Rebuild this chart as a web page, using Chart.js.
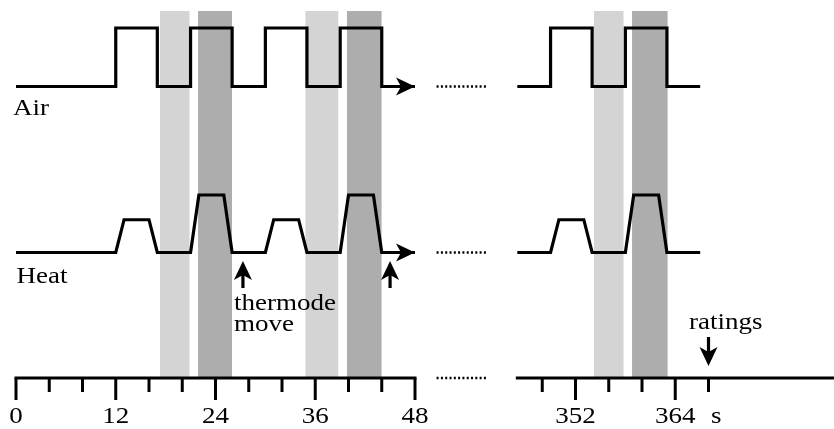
<!DOCTYPE html>
<html>
<head>
<meta charset="utf-8">
<script src="https://cdn.jsdelivr.net/npm/chart.js@4.4.1/dist/chart.umd.min.js"></script>
<style>
  html, body { margin: 0; padding: 0; background: #fff; }
  #wrap { width: 834px; height: 429px; position: relative; }
  .fontwarm { font-family: "Liberation Serif"; position: absolute; left: -999px; top: 0; }
</style>
</head>
<body>
<div id="wrap"><canvas id="timeline"></canvas></div>
<span class="fontwarm">Air Heat 0123456789</span>
<script>
// Stimulus timeline (seconds). Left block = start of run, right block = end of run.
const airTimesLeft = [0, 12, 17, 21, 26, 30, 35, 39, 44, 48];
const airLevelsLeft = [0, 1, 0, 1, 0, 1, 0, 1, 0, 0];
const airTimesRight = [345, 349, 354, 358, 363, 367];
const airLevelsRight = [0, 1, 0, 1, 0, 0];

const heatTimesLeft = [0, 12, 13, 16, 17, 21, 22, 25, 26, 30, 31, 34, 35, 39, 40, 43, 44, 48];
const heatLevelsLeft = [0, 0, 0.57, 0.57, 0, 0, 1, 1, 0, 0, 0.57, 0.57, 0, 0, 1, 1, 0, 0];
const heatTimesRight = [345, 349, 350, 353, 354, 358, 359, 362, 363, 367];
const heatLevelsRight = [0, 0, 0.57, 0.57, 0, 0, 1, 1, 0, 0];

// shaded periods [start, end]
const lightBands = [[17.3, 20.9], [34.8, 38.8], [354.2, 357.8]];
const darkBands = [[21.9, 26.0], [39.8, 44.0], [358.8, 363.1]];

const thermodeMoves = [27.3, 45];
const ratingTimes = [368];

const ticksLeft = [0, 4, 8, 12, 16, 20, 24, 28, 32, 36, 40, 44, 48];
const labelsLeft = [0, 12, 24, 36, 48];
const ticksRight = [348, 352, 356, 360, 364, 368];
const labelsRight = [352, 364];
const axisLeftRange = [0, 48];
const axisRightRange = [345, 390];
const breakRange = [50.6, 56.8];

const W = 834, H = 429;
const FONT = '22.5px "Liberation Serif"';
const STRETCH = 1.2;

// scale limits so that two values land on two pixel positions
function fitX(v0, p0, v1, p1) {
    const ppu = (p1 - p0) / (v1 - v0);
    return { min: v0 - p0 / ppu, max: v0 + (W - p0) / ppu };
}
function fitY(v0, p0, v1, p1) {
    const ppu = (p0 - p1) / (v1 - v0);
    return { min: v0 - (H - p0) / ppu, max: v0 + p0 / ppu };
}

function axisFor(t) { return t > 100 ? 'xR' : 'xL'; }
function pts(xs, ys) { return xs.map((x, i) => ({ x: x, y: ys[i] })); }

function trace(xs, ys, yAxis, stepped) {
    return {
        data: pts(xs, ys),
        xAxisID: axisFor(xs[0]),
        yAxisID: yAxis,
        borderColor: '#000',
        borderWidth: 3.2,
        borderJoinStyle: 'miter',
        pointRadius: 0,
        stepped: stepped,
        fill: false,
        order: 1
    };
}

function band(b, color) {
    return {
        data: [{ x: b[0], y: 0 }, { x: b[0], y: 1 }, { x: b[1], y: 1 }, { x: b[1], y: 0 }],
        xAxisID: axisFor(b[0]),
        yAxisID: 'yBand',
        borderWidth: 0,
        borderColor: color,
        backgroundColor: color,
        pointRadius: 0,
        fill: 'origin',
        order: 2
    };
}

function text(ctx, str, x, y, align) {
    ctx.save();
    ctx.translate(x, y);
    ctx.scale(STRETCH, 1);
    ctx.font = FONT;
    ctx.fillStyle = '#000';
    ctx.textAlign = align || 'left';
    ctx.textBaseline = 'alphabetic';
    ctx.fillText(str, 0, 0);
    ctx.restore();
}

function arrowRight(ctx, x, y) {
    ctx.beginPath();
    ctx.moveTo(x, y);
    ctx.lineTo(x - 19, y - 9);
    ctx.lineTo(x - 14, y);
    ctx.lineTo(x - 19, y + 9);
    ctx.closePath();
    ctx.fill();
}

function arrowVertical(ctx, x, tipY, baseY, dir) {
    // dir = -1 points up, 1 points down
    const headLen = 19, notch = 14, half = 9;
    const neck = tipY - dir * notch;
    ctx.fillRect(x - 1.6, Math.min(baseY, neck), 3.2, Math.abs(baseY - neck));
    ctx.beginPath();
    ctx.moveTo(x, tipY);
    ctx.lineTo(x - half, tipY - dir * headLen);
    ctx.lineTo(x, neck);
    ctx.lineTo(x + half, tipY - dir * headLen);
    ctx.closePath();
    ctx.fill();
}

const decorations = {
    id: 'decorations',
    afterDatasetsDraw(chart) {
        const ctx = chart.ctx;
        const xL = chart.scales.xL, xR = chart.scales.xR;
        const yAir = chart.scales.yAir, yHeat = chart.scales.yHeat, yBand = chart.scales.yBand;
        const axisY = yBand.getPixelForValue(0);
        ctx.save();
        ctx.fillStyle = '#000';
        ctx.strokeStyle = '#000';

        // arrow heads at the end of the first block
        const endT = airTimesLeft[airTimesLeft.length - 1];
        arrowRight(ctx, xL.getPixelForValue(endT), yAir.getPixelForValue(0));
        arrowRight(ctx, xL.getPixelForValue(endT), yHeat.getPixelForValue(0));

        // break markers
        ctx.save();
        ctx.lineWidth = 2.5;
        ctx.setLineDash([2, 2.3]);
        [yAir.getPixelForValue(0), yHeat.getPixelForValue(0), axisY].forEach(y => {
            ctx.beginPath();
            ctx.moveTo(xL.getPixelForValue(breakRange[0]), y);
            ctx.lineTo(xL.getPixelForValue(breakRange[1]), y);
            ctx.stroke();
        });
        ctx.restore();

        // time axes
        ctx.lineWidth = 3;
        ctx.lineCap = 'butt';
        [[xL, axisLeftRange, ticksLeft, labelsLeft], [xR, axisRightRange, ticksRight, labelsRight]].forEach(a => {
            const sc = a[0];
            ctx.beginPath();
            ctx.moveTo(sc.getPixelForValue(a[1][0]) - 1.5, axisY);
            ctx.lineTo(sc.getPixelForValue(a[1][1]) + 1.5, axisY);
            ctx.stroke();
            a[2].forEach(t => {
                const x = sc.getPixelForValue(t);
                const major = a[3].indexOf(t) >= 0;
                ctx.beginPath();
                ctx.moveTo(x, axisY);
                ctx.lineTo(x, axisY + (major ? 22 : 14));
                ctx.stroke();
            });
            a[3].forEach(t => text(ctx, String(t), sc.getPixelForValue(t), 423, 'center'));
        });
        text(ctx, 's', 711, 423);

        // thermode move and rating arrows
        thermodeMoves.forEach(t => arrowVertical(ctx, xL.getPixelForValue(t), 261, 288, -1));
        ratingTimes.forEach(t => arrowVertical(ctx, xR.getPixelForValue(t), 366, 337, 1));

        // labels
        text(ctx, 'Air', 13, 115);
        text(ctx, 'Heat', 16.5, 283);
        text(ctx, 'thermode', 234, 310);
        text(ctx, 'move', 234, 331);
        text(ctx, 'ratings', 689, 329);
        ctx.restore();
    }
};

const datasets = [
    trace(airTimesLeft, airLevelsLeft, 'yAir', true),
    trace(airTimesRight, airLevelsRight, 'yAir', true),
    trace(heatTimesLeft, heatLevelsLeft, 'yHeat', false),
    trace(heatTimesRight, heatLevelsRight, 'yHeat', false)
];
lightBands.forEach(b => datasets.push(band(b, '#d4d4d4')));
darkBands.forEach(b => datasets.push(band(b, '#adadad')));

const hidden = { type: 'linear', display: false };

function draw() {
    new Chart(document.getElementById('timeline').getContext('2d'), {
        type: 'line',
        data: { datasets: datasets },
        options: {
            responsive: true,
            maintainAspectRatio: false,
            animation: false,
            events: [],
            layout: { padding: 0 },
            plugins: { legend: { display: false }, tooltip: { enabled: false } },
            scales: {
                xL: Object.assign({ axis: 'x' }, hidden, fitX(0, 16, 48, 415)),
                xR: Object.assign({ axis: 'x' }, hidden, fitX(352, 575.5, 364, 675.25)),
                yAir: Object.assign({ axis: 'y' }, hidden, fitY(0, 86.5, 1, 28)),
                yHeat: Object.assign({ axis: 'y' }, hidden, fitY(0, 252.5, 1, 195)),
                yBand: Object.assign({ axis: 'y' }, hidden, fitY(0, 378, 1, 11))
            }
        },
        plugins: [decorations]
    });
}

// make sure the serif face is ready before the canvas text is drawn
if (document.fonts && document.fonts.load) {
    document.fonts.load(FONT, 'Air Heat').then(draw, draw);
} else {
    draw();
}
</script>
</body>
</html>
